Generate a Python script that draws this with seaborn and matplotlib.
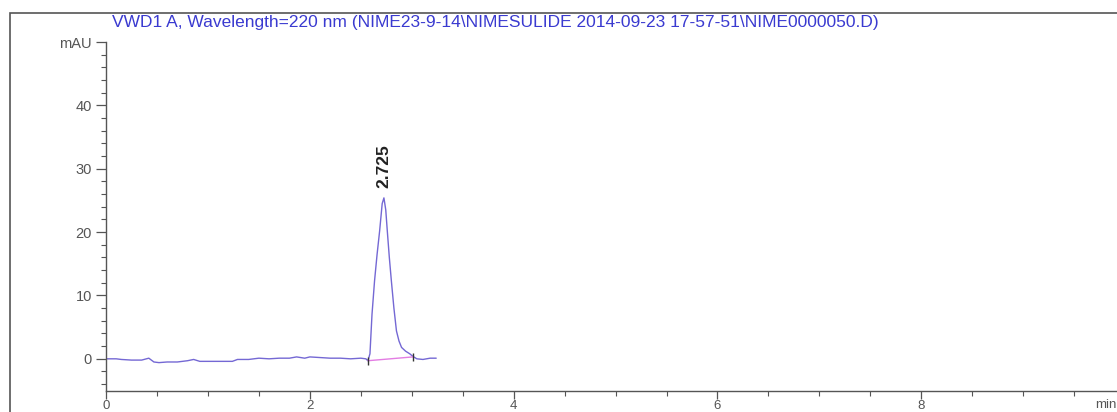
import matplotlib
matplotlib.use("Agg")
import matplotlib.pyplot as plt
import seaborn as sns
import pandas as pd
from matplotlib.ticker import MultipleLocator, FixedLocator
from matplotlib.patches import Rectangle

# ---------------- data ----------------
time_min = [0.00, 0.10, 0.15, 0.25, 0.35, 0.42, 0.47, 0.52, 0.60, 0.70,
            0.80, 0.86, 0.92, 1.00, 1.10, 1.24, 1.29, 1.40, 1.50, 1.60,
            1.70, 1.80, 1.87, 1.95, 2.00, 2.10, 2.20, 2.30, 2.40, 2.50,
            2.55, 2.57, 2.59, 2.61, 2.635, 2.66, 2.685, 2.71, 2.727, 2.745,
            2.76, 2.78, 2.80, 2.825, 2.85, 2.875, 2.90, 2.94, 2.98, 3.01,
            3.05, 3.11, 3.18, 3.24]
signal_mau = [0.0, 0.0, -0.1, -0.2, -0.2, 0.1, -0.5, -0.6, -0.5, -0.5,
              -0.3, -0.1, -0.4, -0.4, -0.4, -0.4, -0.1, -0.1, 0.1, 0.0,
              0.1, 0.1, 0.3, 0.1, 0.3, 0.2, 0.1, 0.1, 0.0, 0.1,
              0.0, -0.3, 0.8, 7.0, 12.3, 16.5, 20.2, 24.5, 25.4, 23.5,
              20.2, 16.0, 12.3, 8.0, 4.4, 2.8, 1.8, 1.2, 0.8, 0.4,
              0.0, -0.1, 0.1, 0.1]

peak_rt = 2.725
peak_height = 25.4
baseline_t = [2.57, 3.01]
baseline_v = [-0.3, 0.3]

title_text = "VWD1 A, Wavelength=220 nm (NIME23-9-14\\NIMESULIDE 2014-09-23 17-57-51\\NIME0000050.D)"
x_ticks = [0, 2, 4, 6, 8]
y_ticks = [0, 10, 20, 30, 40, 50]
y_tick_labels = ["0", "10", "20", "30", "40", "mAU"]
x_unit = "min"

# ---------------- style ----------------
sns.set_theme(style="white")
plt.rcParams["font.family"] = ["Liberation Sans", "DejaVu Sans"]

fig = plt.figure(figsize=(11.17, 4.12), dpi=100)
ax = fig.add_axes([106 / 1117, 21.5 / 412, 1 - 106 / 1117, (390.5 - 42) / 412])

df = pd.DataFrame({"t": time_min, "v": signal_mau})
sns.lineplot(data=df, x="t", y="v", ax=ax, color="#7468d4", linewidth=1.0)
ax.plot(baseline_t, baseline_v, color="#e37de3", linewidth=1.0)
ax.plot(baseline_t, baseline_v, linestyle="none", marker="|", markersize=6,
        color="#333333", markeredgewidth=1.0)

ax.text(peak_rt, peak_height + 1.6, f"{peak_rt:.3f}", rotation=90, ha="center",
        va="bottom", fontsize=12.5, fontweight="bold", color="#222222")

ax.set_xlim(0, 9.92)
ax.set_ylim(-5, 50)
ax.set_xlabel("")
ax.set_ylabel("")

ax.xaxis.set_major_locator(FixedLocator(x_ticks))
ax.xaxis.set_minor_locator(MultipleLocator(0.5))
ax.yaxis.set_major_locator(FixedLocator(y_ticks))
ax.set_yticklabels(y_tick_labels)
ax.yaxis.set_minor_locator(MultipleLocator(2))

ax.tick_params(axis="y", which="major", direction="out", length=7, width=0.9,
               color="#555555", labelsize=10.5, labelcolor="#555555", pad=3,
               left=True)
ax.tick_params(axis="x", which="major", direction="out", length=6, width=0.9,
               color="#555555", labelsize=9.5, labelcolor="#555555", pad=0.5,
               bottom=True)
ax.tick_params(axis="both", which="minor", direction="out", length=3.5, width=0.8,
               color="#555555", bottom=True, left=True)

for s in ["top", "right"]:
    ax.spines[s].set_visible(False)
for s in ["left", "bottom"]:
    ax.spines[s].set_color("#555555")
    ax.spines[s].set_linewidth(1.0)

ax.patch.set_alpha(0)

# outer frame of the printout
fig.add_artist(Rectangle((10 / 1117, -0.05), 1.2, 0.05 + (412 - 13) / 412,
                         transform=fig.transFigure, fill=False,
                         edgecolor="#555555", linewidth=1.2))

fig.text(112 / 1117, 1 - 23 / 412, title_text, ha="left", va="center",
         fontsize=12.5, color="#3a3ad0")
fig.text(1095 / 1117, 1 - 405 / 412, x_unit, ha="left", va="center",
         fontsize=9.5, color="#555555")

fig.savefig("out.png", dpi=100)
